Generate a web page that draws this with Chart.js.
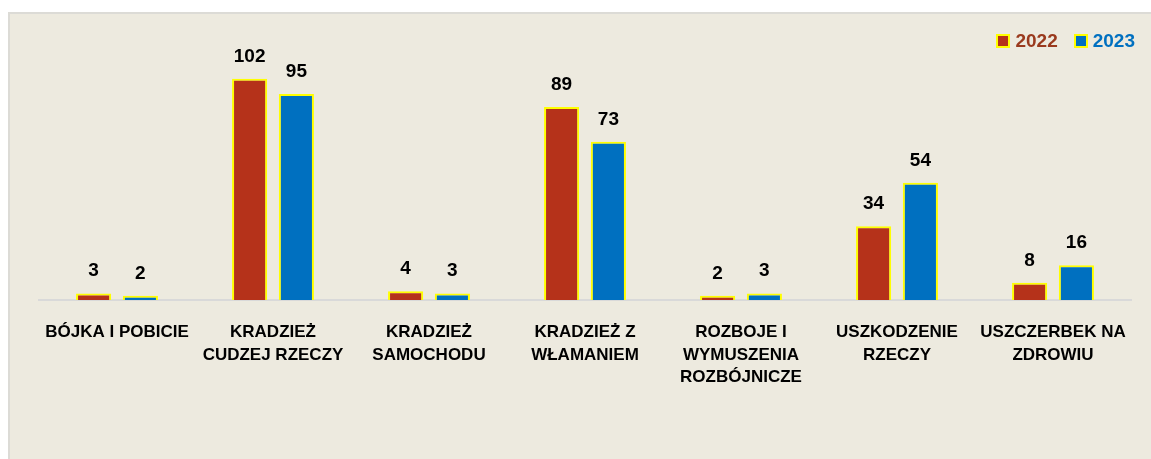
<!DOCTYPE html>
<html lang="pl">
  <head>
    <meta charset="utf-8">
    <script src="https://cdn.jsdelivr.net/npm/chart.js@4.4.1/dist/chart.umd.min.js"></script>
    <title>Przestępstwa 2022 / 2023</title>
    <style>
      body { margin: 0; background: #ffffff; }
      #bg {
        position: absolute; left: 8px; top: 12px; width: 1143px; height: 447px;
        background: #edeadf; border-top: 2px solid #dcdbd6; border-left: 2px solid #dcdbd6;
        box-sizing: border-box;
      }
      #box { position: absolute; left: 0; top: 0; width: 1151px; height: 459px; }
      #legend {
        position: absolute; top: 30px; right: 16px; z-index: 2;
        font: bold 19px "Liberation Sans", Arial, sans-serif; line-height: 22px;
        display: flex; gap: 16px;
      }
      #legend span.item { display: flex; align-items: center; gap: 5px; }
      #legend i { display: inline-block; width: 10px; height: 10px; border: 2px solid #ffff00; }
    </style>
  </head>
  <body>
    <div id="bg"></div>
    <div id="legend"></div>
    <div id="box"><canvas id="myChart"></canvas></div>
    <script type="text/javascript">
      const categories = [
        ['BÓJKA I POBICIE'],
        ['KRADZIEŻ', 'CUDZEJ RZECZY'],
        ['KRADZIEŻ', 'SAMOCHODU'],
        ['KRADZIEŻ Z', 'WŁAMANIEM'],
        ['ROZBOJE I', 'WYMUSZENIA', 'ROZBÓJNICZE'],
        ['USZKODZENIE', 'RZECZY'],
        ['USZCZERBEK NA', 'ZDROWIU']
      ];
      const years = ['2022', '2023'];
      const values2022 = [3, 102, 4, 89, 2, 34, 8];
      const values2023 = [2, 95, 3, 73, 3, 54, 16];
      const barColors = ['#b5321a', '#0070c0'];
      const textColors = ['#9a3a1e', '#0070c0'];

      const FONT = '"Liberation Sans", Arial, sans-serif';

      // legend as plain html, top right
      const legendEl = document.getElementById('legend');
      years.forEach((y, i) => {
        const item = document.createElement('span');
        item.className = 'item';
        item.innerHTML = '<i style="background:' + barColors[i] + '"></i><span style="color:' + textColors[i] + '">' + y + '</span>';
        legendEl.appendChild(item);
      });

      // numbers above the bars
      const valueLabels = {
        id: 'valueLabels',
        afterDatasetsDraw(chart) {
          const ctx = chart.ctx;
          ctx.save();
          ctx.font = 'bold 19px ' + FONT;
          ctx.fillStyle = '#000000';
          ctx.textAlign = 'center';
          ctx.textBaseline = 'alphabetic';
          chart.data.datasets.forEach((ds, i) => {
            chart.getDatasetMeta(i).data.forEach((bar, j) => {
              ctx.fillText(ds.data[j], bar.x, bar.y - 17);
            });
          });
          ctx.restore();
        }
      };

      new Chart(document.getElementById('myChart'), {
        type: 'bar',
        plugins: [valueLabels],
        data: {
          labels: categories,
          datasets: [
            { label: years[0], data: values2022, backgroundColor: barColors[0] },
            { label: years[1], data: values2023, backgroundColor: barColors[1] }
          ]
        },
        options: {
          responsive: true,
          maintainAspectRatio: false,
          animation: false,
          layout: { padding: { left: 39, right: 20, top: 44, bottom: 0 } },
          datasets: {
            bar: {
              borderColor: '#ffff00',
              borderWidth: 2,
              categoryPercentage: 0.6,
              barPercentage: 0.75
            }
          },
          plugins: {
            tooltip: { enabled: false },
            legend: { display: false }
          },
          scales: {
            x: {
              grid: { display: false, drawTicks: false },
              border: { display: true, color: '#d9d9d9', width: 2 },
              ticks: {
                color: '#000000',
                padding: 21,
                maxRotation: 0,
                autoSkip: false,
                font: { family: FONT, size: 17, weight: 'bold', lineHeight: 1.33 }
              },
              afterFit(scale) { scale.height = 159; }
            },
            y: {
              display: false,
              min: 0,
              max: 118
            }
          }
        }
      });
    </script>
  </body>
</html>
